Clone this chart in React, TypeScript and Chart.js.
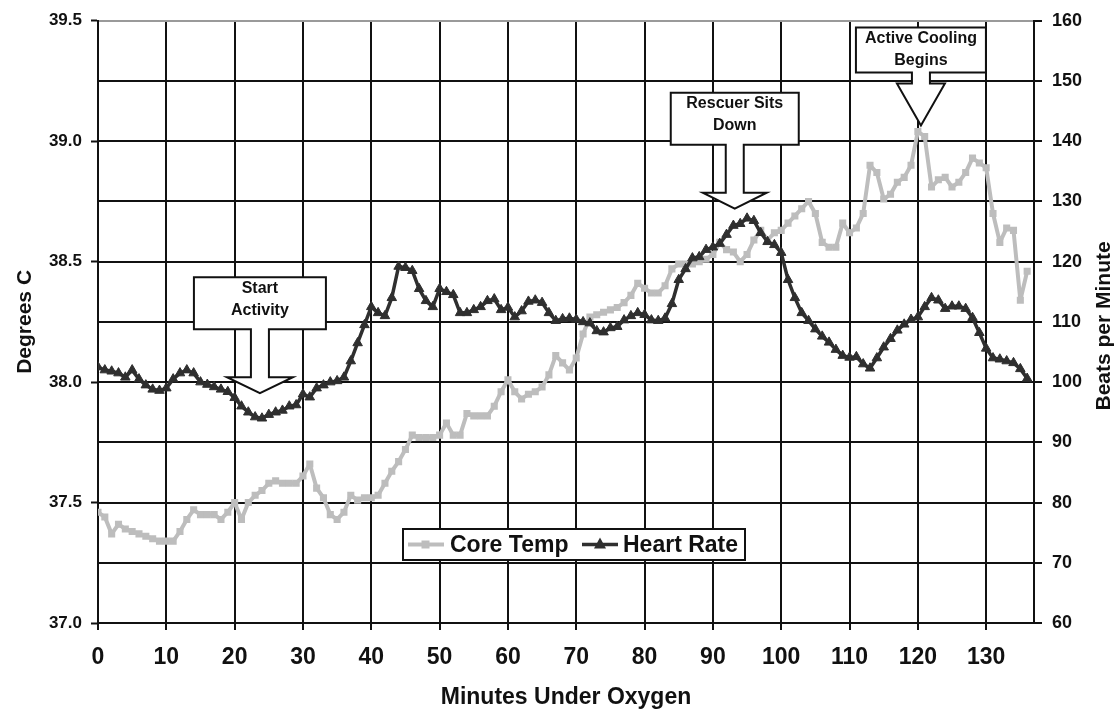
import React, { useEffect, useRef } from 'react';
import { Chart, registerables } from 'chart.js';

Chart.register(...registerables);

const FONT = '"Liberation Sans", Arial, Helvetica, sans-serif';

const MINUTES = [
  0, 1, 2, 3, 4, 5, 6, 7, 8, 9, 10, 11, 12, 13, 14, 15, 16, 17, 18, 19,
  20, 21, 22, 23, 24, 25, 26, 27, 28, 29, 30, 31, 32, 33, 34, 35, 36, 37, 38, 39,
  40, 41, 42, 43, 44, 45, 46, 47, 48, 49, 50, 51, 52, 53, 54, 55, 56, 57, 58, 59,
  60, 61, 62, 63, 64, 65, 66, 67, 68, 69, 70, 71, 72, 73, 74, 75, 76, 77, 78, 79,
  80, 81, 82, 83, 84, 85, 86, 87, 88, 89, 90, 91, 92, 93, 94, 95, 96, 97, 98, 99,
  100, 101, 102, 103, 104, 105, 106, 107, 108, 109, 110, 111, 112, 113, 114, 115, 116, 117, 118, 119,
  120, 121, 122, 123, 124, 125, 126, 127, 128, 129, 130, 131, 132, 133, 134, 135, 136,
];

const CORE_TEMP = [
  37.46, 37.44, 37.37, 37.41, 37.39, 37.38, 37.37, 37.36, 37.35, 37.34,
  37.34, 37.34, 37.38, 37.43, 37.47, 37.45, 37.45, 37.45, 37.43, 37.46,
  37.5, 37.43, 37.5, 37.53, 37.55, 37.58, 37.59, 37.58, 37.58, 37.58,
  37.61, 37.66, 37.56, 37.52, 37.45, 37.43, 37.46, 37.53, 37.51, 37.52,
  37.52, 37.53, 37.58, 37.63, 37.67, 37.72, 37.78, 37.77, 37.77, 37.77,
  37.78, 37.83, 37.78, 37.78, 37.87, 37.86, 37.86, 37.86, 37.9, 37.96,
  38.01, 37.96, 37.93, 37.95, 37.96, 37.98, 38.03, 38.11, 38.08, 38.05,
  38.1, 38.2, 38.27, 38.28, 38.29, 38.3, 38.31, 38.33, 38.36, 38.41,
  38.39, 38.37, 38.37, 38.4, 38.47, 38.49, 38.49, 38.49, 38.5, 38.51,
  38.53, 38.58, 38.55, 38.54, 38.5, 38.53, 38.59, 38.63, 38.59, 38.62,
  38.63, 38.66, 38.69, 38.72, 38.75, 38.7, 38.58, 38.56, 38.56, 38.66,
  38.62, 38.64, 38.7, 38.9, 38.87, 38.76, 38.78, 38.83, 38.85, 38.9,
  39.04, 39.02, 38.81, 38.84, 38.85, 38.81, 38.83, 38.87, 38.93, 38.91,
  38.89, 38.7, 38.58, 38.64, 38.63, 38.34, 38.46,
];

const HEART_RATE = [
  102.5, 102, 101.8, 101.5, 100.8, 102, 100.5, 99.5, 98.8, 98.6,
  99, 100.5, 101.5, 102, 101.5, 100, 99.6, 99.2, 98.8, 98.4,
  97.4, 96, 95, 94.2, 94, 94.6, 95, 95.3, 96, 96.2,
  98, 97.5, 99, 99.5, 100, 100.2, 100.8, 103.5, 106.5, 109.5,
  112.5, 111.5, 111, 114, 119.2, 119, 118.5, 115.5, 113.5, 112.5,
  115.5, 115, 114.5, 111.5, 111.5, 112, 112.5, 113.5, 113.8, 112,
  112.4, 110.8, 111.8, 113.4, 113.6, 113.2, 111.5, 110.2, 110.5, 110.6,
  110.4, 110, 109.8, 108.5, 108.3, 109, 109.2, 110.3, 111, 111.5,
  111.2, 110.3, 110.2, 110.6, 113, 117, 118.8, 120.6, 120.8, 122,
  122.4, 123, 124.5, 126, 126.3, 127.2, 126.8, 124.8, 123.3, 122.8,
  121.5, 117, 114, 111.5, 110.2, 108.8, 107.6, 106.6, 105.4, 104.4,
  104.1, 104.2, 103, 102.3, 104, 105.8, 107.2, 108.6, 109.6, 110.4,
  110.8, 112.5, 114, 113.6, 112.2, 112.6, 112.6, 112.2, 110.7, 108.2,
  105.6, 104, 103.8, 103.5, 103.2, 102.2, 100.6,
];

const X_TICKS = [0, 10, 20, 30, 40, 50, 60, 70, 80, 90, 100, 110, 120, 130];
const TEMP_TICKS = [37.0, 37.5, 38.0, 38.5, 39.0, 39.5];
const HR_TICKS = [60, 70, 80, 90, 100, 110, 120, 130, 140, 150, 160];

const SERIES_NAMES = ['Core Temp', 'Heart Rate'];
const AXIS_TITLES = { x: 'Minutes Under Oxygen', left: 'Degrees C', right: 'Beats per Minute' };

const ANNOTATION_TEXT = [
  ['Start', 'Activity'],
  ['Rescuer Sits', 'Down'],
  ['Active Cooling', 'Begins'],
];
// arrow tip positions in data units (minutes, degrees C)
const ANNOTATION_TIP_MIN = [23.7, 93.2, 120.45];
const ANNOTATION_TIP_TEMP = [37.954, 38.72, 39.065];

const GRAY = '#bdbdbd';
const DARK = '#2f2f2f';
const INK = '#111111';

// callout shape geometry (pixels, relative to tip)
const SHAPES = [
  { boxHalf: 66, boxTop: -116, boxBottom: -64, stemHalf: 9, headY: -16, headHalf: 33 },
  { boxHalf: 64, boxTop: -116, boxBottom: -64, stemHalf: 9, headY: -16, headHalf: 32 },
  { boxHalf: 65, boxTop: -98, boxBottom: -53, stemHalf: 9, headY: -42, headHalf: 24 },
];

const annotationPlugin = {
  id: 'callouts',
  afterDatasetsDraw(chart: any) {
    const { ctx } = chart;
    const xs = chart.scales.x;
    const ys = chart.scales.yT;
    ANNOTATION_TEXT.forEach((lines, i) => {
      const tx = xs.getPixelForValue(ANNOTATION_TIP_MIN[i]);
      const ty = ys.getPixelForValue(ANNOTATION_TIP_TEMP[i]);
      const s = SHAPES[i];
      ctx.save();
      ctx.beginPath();
      ctx.moveTo(tx - s.boxHalf, ty + s.boxTop);
      ctx.lineTo(tx + s.boxHalf, ty + s.boxTop);
      ctx.lineTo(tx + s.boxHalf, ty + s.boxBottom);
      ctx.lineTo(tx + s.stemHalf, ty + s.boxBottom);
      ctx.lineTo(tx + s.stemHalf, ty + s.headY);
      ctx.lineTo(tx + s.headHalf, ty + s.headY);
      ctx.lineTo(tx, ty);
      ctx.lineTo(tx - s.headHalf, ty + s.headY);
      ctx.lineTo(tx - s.stemHalf, ty + s.headY);
      ctx.lineTo(tx - s.stemHalf, ty + s.boxBottom);
      ctx.lineTo(tx - s.boxHalf, ty + s.boxBottom);
      ctx.closePath();
      ctx.fillStyle = '#ffffff';
      ctx.fill();
      ctx.lineWidth = 2;
      ctx.strokeStyle = INK;
      ctx.lineJoin = 'miter';
      ctx.stroke();
      ctx.fillStyle = INK;
      ctx.font = `bold 16px ${FONT}`;
      ctx.textAlign = 'center';
      ctx.textBaseline = 'middle';
      lines.forEach((t, k) => {
        ctx.fillText(t, tx, ty + s.boxTop + 11 + k * 22);
      });
      ctx.restore();
    });
  },
};

const legendPlugin = {
  id: 'insideLegend',
  afterDatasetsDraw(chart: any) {
    const { ctx } = chart;
    const left = 403, top = 529, w = 342, h = 31;
    const cy = top + h / 2;
    ctx.save();
    ctx.fillStyle = '#ffffff';
    ctx.fillRect(left, top, w, h);
    ctx.lineWidth = 2;
    ctx.strokeStyle = INK;
    ctx.strokeRect(left, top, w, h);
    // Core Temp sample
    ctx.strokeStyle = GRAY;
    ctx.lineWidth = 4;
    ctx.beginPath();
    ctx.moveTo(408, cy);
    ctx.lineTo(444, cy);
    ctx.stroke();
    ctx.fillStyle = GRAY;
    ctx.fillRect(421.5, cy - 4, 8, 8);
    // Heart Rate sample
    ctx.strokeStyle = DARK;
    ctx.lineWidth = 3.5;
    ctx.beginPath();
    ctx.moveTo(582, cy);
    ctx.lineTo(618, cy);
    ctx.stroke();
    ctx.fillStyle = DARK;
    ctx.beginPath();
    ctx.moveTo(600, cy - 7);
    ctx.lineTo(606, cy + 4);
    ctx.lineTo(594, cy + 4);
    ctx.closePath();
    ctx.fill();
    ctx.fillStyle = INK;
    ctx.font = `bold 23px ${FONT}`;
    ctx.textAlign = 'left';
    ctx.textBaseline = 'middle';
    ctx.fillText(SERIES_NAMES[0], 450, cy + 1);
    ctx.fillText(SERIES_NAMES[1], 623, cy + 1);
    ctx.restore();
  },
};

const rightTitlePlugin = {
  id: 'rightTitle',
  afterDraw(chart: any) {
    const { ctx, chartArea } = chart;
    ctx.save();
    ctx.translate(1104, (chartArea.top + chartArea.bottom) / 2 + 4);
    ctx.rotate(-Math.PI / 2);
    ctx.fillStyle = INK;
    ctx.font = `bold 21px ${FONT}`;
    ctx.textAlign = 'center';
    ctx.textBaseline = 'middle';
    ctx.fillText(AXIS_TITLES.right, 0, 0);
    ctx.restore();
  },
};

export default function App() {
  const canvasRef = useRef<HTMLCanvasElement | null>(null);

  useEffect(() => {
    document.body.style.margin = '0';
    const canvas = canvasRef.current;
    if (!canvas) return;
    Chart.defaults.font.family = FONT;

    const chart = new Chart(canvas, {
      type: 'line',
      data: {
        datasets: [
          {
            label: SERIES_NAMES[0],
            data: MINUTES.map((m, i) => ({ x: m, y: CORE_TEMP[i] })),
            yAxisID: 'yT',
            borderColor: GRAY,
            backgroundColor: GRAY,
            borderWidth: 4,
            borderJoinStyle: 'round',
            pointStyle: 'rect',
            pointRadius: 5,
            pointBorderWidth: 0,
            pointBackgroundColor: GRAY,
            tension: 0,
            order: 2,
          },
          {
            label: SERIES_NAMES[1],
            data: MINUTES.map((m, i) => ({ x: m, y: HEART_RATE[i] })),
            yAxisID: 'yH',
            borderColor: DARK,
            backgroundColor: DARK,
            borderWidth: 3.5,
            borderJoinStyle: 'round',
            pointStyle: 'triangle',
            pointRadius: 5.5,
            pointBorderWidth: 1,
            pointBackgroundColor: DARK,
            pointBorderColor: DARK,
            tension: 0,
            order: 1,
          },
        ],
      },
      options: {
        animation: false,
        responsive: false,
        events: [],
        layout: { padding: { top: 20, left: 0, right: 0, bottom: 0 } },
        plugins: {
          legend: { display: false },
          tooltip: { enabled: false },
        },
        scales: {
          x: {
            type: 'linear',
            min: 0,
            max: 137,
            afterBuildTicks: (s: any) => {
              s.ticks = X_TICKS.map((v) => ({ value: v }));
            },
            ticks: {
              font: { size: 23, weight: 'bold' },
              color: INK,
              padding: 14,
              maxRotation: 0,
              autoSkip: false,
            },
            grid: {
              color: INK,
              lineWidth: 2,
              tickLength: 7,
              tickWidth: 2,
              tickColor: INK,
            },
            border: { display: true, color: INK, width: 2 },
            title: {
              display: true,
              text: AXIS_TITLES.x,
              font: { size: 23, weight: 'bold' },
              color: INK,
              padding: { top: 0, bottom: 0 },
            },
            afterFit: (s: any) => {
              s.height = 88;
            },
          },
          yT: {
            type: 'linear',
            position: 'left',
            min: 37,
            max: 39.5,
            afterBuildTicks: (s: any) => {
              s.ticks = TEMP_TICKS.map((v) => ({ value: v }));
            },
            ticks: {
              callback: (v: any) => Number(v).toFixed(1),
              font: { size: 17, weight: 'bold' },
              color: INK,
              padding: 9,
            },
            grid: {
              drawOnChartArea: false,
              tickLength: 7,
              tickWidth: 2,
              tickColor: INK,
              color: INK,
            },
            border: { display: true, color: INK, width: 2 },
            title: {
              display: true,
              text: AXIS_TITLES.left,
              font: { size: 21, weight: 'bold' },
              color: INK,
              padding: { top: 13, bottom: 0 },
            },
            afterFit: (s: any) => {
              s.width = 98;
            },
          },
          yH: {
            type: 'linear',
            position: 'right',
            min: 60,
            max: 160,
            afterBuildTicks: (s: any) => {
              s.ticks = HR_TICKS.map((v) => ({ value: v }));
            },
            ticks: {
              font: { size: 18, weight: 'bold' },
              color: INK,
              padding: 10,
            },
            grid: {
              color: (c: any) => (c.tick && c.tick.value === 160 ? '#9a9a9a' : INK),
              lineWidth: 2,
              tickLength: 8,
              tickWidth: 2,
              tickColor: INK,
            },
            border: { display: true, color: INK, width: 2 },
            afterFit: (s: any) => {
              s.width = 85;
            },
          },
        },
      },
      plugins: [annotationPlugin, legendPlugin, rightTitlePlugin],
    } as any);

    return () => {
      chart.destroy();
    };
  }, []);

  return (
    <div style={{ width: 1119, height: 711, background: '#ffffff' }}>
      <canvas ref={canvasRef} width={1119} height={711} style={{ display: 'block' }} />
    </div>
  );
}
